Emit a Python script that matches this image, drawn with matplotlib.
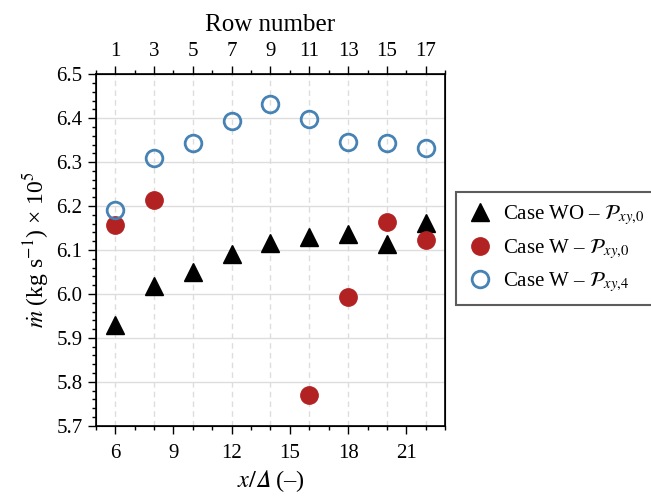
import numpy as np
import matplotlib.pyplot as plt
from matplotlib.ticker import MultipleLocator

plt.rcParams['font.family'] = ['Liberation Serif', 'DejaVu Serif']
plt.rcParams['mathtext.fontset'] = 'stix'

# data
x_pos = [6, 8, 10, 12, 14, 16, 18, 20, 22]
wo_p0 = [5.929, 6.017, 6.050, 6.091, 6.115, 6.129, 6.137, 6.113, 6.162]
x_w_p0 = [6, 8, 16, 18, 20, 22]
w_p0 = [6.158, 6.214, 5.769, 5.992, 6.164, 6.123]
w_p4 = [6.192, 6.309, 6.344, 6.394, 6.432, 6.399, 6.346, 6.344, 6.332]
row_numbers = [1, 3, 5, 7, 9, 11, 13, 15, 17]

fig = plt.figure(figsize=(6.51, 4.98), dpi=100)
ax = fig.add_axes([0.147, 0.145, 0.537, 0.706])

ax.plot(x_pos, wo_p0, '^', color='black', markersize=13, ls='none',
        label=r'Case WO – $\mathcal{P}_{xy,\!0}$', zorder=3)
ax.plot(x_w_p0, w_p0, 'o', color='#b22222', markersize=12.5, ls='none',
        label=r'Case W – $\mathcal{P}_{xy,\!0}$', zorder=3)
ax.plot(x_pos, w_p4, 'o', mfc='none', mec='#4682b4', mew=2, markersize=12, ls='none',
        label=r'Case W – $\mathcal{P}_{xy,\!4}$', zorder=3)

ax.set_xlim(5, 23)
ax.set_ylim(5.7, 6.5)
ax.xaxis.set_major_locator(MultipleLocator(3))
ax.xaxis.set_minor_locator(MultipleLocator(1))
ax.yaxis.set_major_locator(MultipleLocator(0.1))
ax.yaxis.set_minor_locator(MultipleLocator(0.02))
ax.yaxis.set_major_formatter(plt.FormatStrFormatter('%.1f'))
ax.tick_params(which='major', length=6, width=1, labelsize=15, direction='out')
ax.tick_params(which='minor', length=3, width=1, direction='out')
ax.tick_params(axis='x', pad=7)

# grid: solid horizontal, dashed vertical at row positions
ax.grid(axis='y', which='major', color='#dddddd', lw=1, ls='-', zorder=0)
for xv in x_pos:
    ax.axvline(xv, color='#dddddd', lw=1, ls=(0, (4, 3)), zorder=0)

for s in ax.spines.values():
    s.set_linewidth(1.2)

ax.set_xlabel('$x/\U0001D6E5$ (–)', fontsize=17.5, labelpad=4)
ax.set_ylabel(r'$\dot{m}$ (kg s$^{-1}$) × 10$^5$', fontsize=17)

top = ax.twiny()
top.set_xlim(ax.get_xlim())
top.set_xticks(x_pos)
top.set_xticklabels([str(r) for r in row_numbers])
top.xaxis.set_minor_locator(MultipleLocator(1))
top.tick_params(which='major', length=6, width=1, labelsize=15, direction='out')
top.tick_params(which='minor', length=3, width=1, direction='out')
top.set_xlabel('Row number', fontsize=18, labelpad=8)

leg = ax.legend(loc='upper left', bbox_to_anchor=(1.03, 0.665), borderaxespad=0,
                fontsize=15, frameon=True, fancybox=False, edgecolor='#333333',
                handletextpad=0.5, borderpad=0.55, labelspacing=0.45, handlelength=1.2)
leg.get_frame().set_linewidth(1.5)

fig.savefig('out.png', dpi=100)
